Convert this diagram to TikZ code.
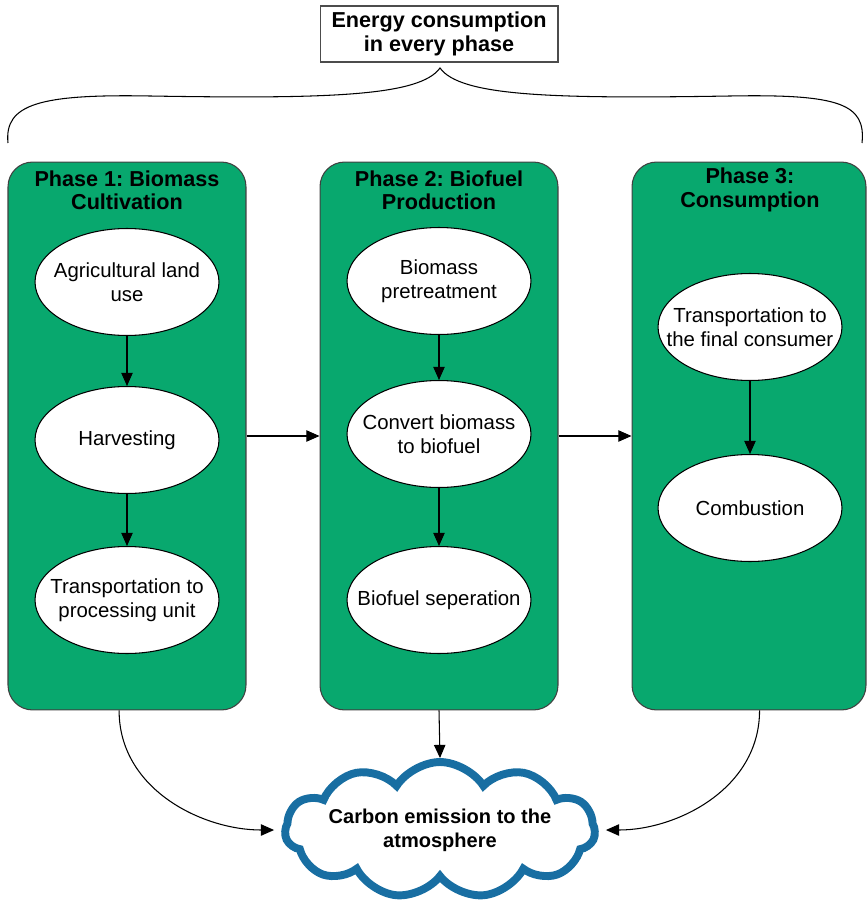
\documentclass[tikz,border=0pt]{standalone}
\usepackage{fontspec}
\setmainfont{Liberation Sans}
\usetikzlibrary{shapes.geometric,shapes.symbols,arrows.meta}
\definecolor{phasegreen}{RGB}{8,168,110}
\definecolor{cloudblue}{RGB}{24,110,162}
\frenchspacing
\tikzset{
  phasebox/.style={draw=black!75, line width=0.6pt, fill=phasegreen,
    rounded corners=14pt, minimum width=4.76cm, minimum height=10.96cm},
  phasetitle/.style={align=center, font=\fontsize{12.3}{13.2}\selectfont\bfseries},
  stepnode/.style={ellipse, draw, fill=white, line width=0.6pt, inner ysep=0pt,
    inner xsep=-14pt, minimum width=3.68cm, minimum height=2.14cm, align=center,
    font=\fontsize{11.6}{13.6}\selectfont},
  arr/.style={line width=0.6pt, -{Triangle[length=7.5pt,width=6.5pt]}}
}
\begin{document}
\begin{tikzpicture}[x=0.02cm, y=-0.02cm]
    \useasboundingbox (0,0) rectangle (868,912);
    \def\ax{127}; \def\bx{439}; \def\cx{750};

    % the three phases
    \node[phasebox] (p1) at (\ax,436) {}; \node[phasebox] (p2) at (\bx,436) {};
    \node[phasebox, minimum width=4.68cm] (p3) at (749,436) {};

    \node[phasetitle] (t1) at (\ax,190) {Phase 1: Biomass\\Cultivation};
    \node[phasetitle] (t2) at (\bx,190) {Phase 2: Biofuel\\Production};
    \node[phasetitle] (t3) at (\cx,190) {Phase 3:\\Consumption};

    % steps
    \node[stepnode] (e11) at (\ax,282) {Agricultural land\\use};
    \node[stepnode] (e12) at (\ax,440) {Harvesting};
    \node[stepnode] (e13) at (\ax,600) {Transportation to\\processing unit};
    \node[stepnode] (e21) at (\bx,281) {Biomass\\pretreatment};
    \node[stepnode] (e22) at (\bx,434) {Convert biomass\\to biofuel};
    \node[stepnode] (e23) at (\bx,600) {Biofuel seperation};
    \node[stepnode] (e31) at (\cx,327) {Transportation to\\the final consumer};
    \node[stepnode] (e32) at (\cx,508) {Combustion};

    \draw[arr] (e11) -- (e12); \draw[arr] (e12) -- (e13);
    \draw[arr] (e21) -- (e22); \draw[arr] (e22) -- (e23);
    \draw[arr] (e31) -- (e32);
    \draw[arr] (p1.east) -- (p2.west); \draw[arr] (p2.east) -- (p3.west);

    % energy box and brace
    \node[draw=black!70, line width=0.6pt, minimum width=4.76cm, minimum height=1.12cm,
      align=center, font=\fontsize{12.3}{13.6}\selectfont\bfseries] (energy) at (439,34)
      {Energy consumption\\in every phase};
    \draw[line width=0.6pt] (8,143) .. controls (4,104) and (40,94) .. (150,96)
      .. controls (330,99) and (420,96) .. (440,68)
      .. controls (460,96) and (550,99) .. (730,96)
      .. controls (840,94) and (866,104) .. (862,143);

    % carbon emission
    \node[cloud, cloud ignores aspect, cloud puffs=11, cloud puff arc=115, draw=cloudblue,
      line width=4.5pt, fill=white, inner xsep=-12pt, inner ysep=0pt,
      minimum width=6.2cm, minimum height=2.72cm, align=center,
      font=\fontsize{11.4}{13.6}\selectfont\bfseries] (co2) at (440,830)
      {Carbon emission to the\\atmosphere};

    \draw[arr] (p2.south) -- (co2.north);
    \draw[arr, shorten >=4pt] ([xshift=-4.5pt]p1.south) to[out=-90, in=180] (co2.west);
    \draw[arr, shorten >=4pt] ([xshift=6pt]p3.south) to[out=-90, in=0] (co2.east);
  \end{tikzpicture}
\end{document}
